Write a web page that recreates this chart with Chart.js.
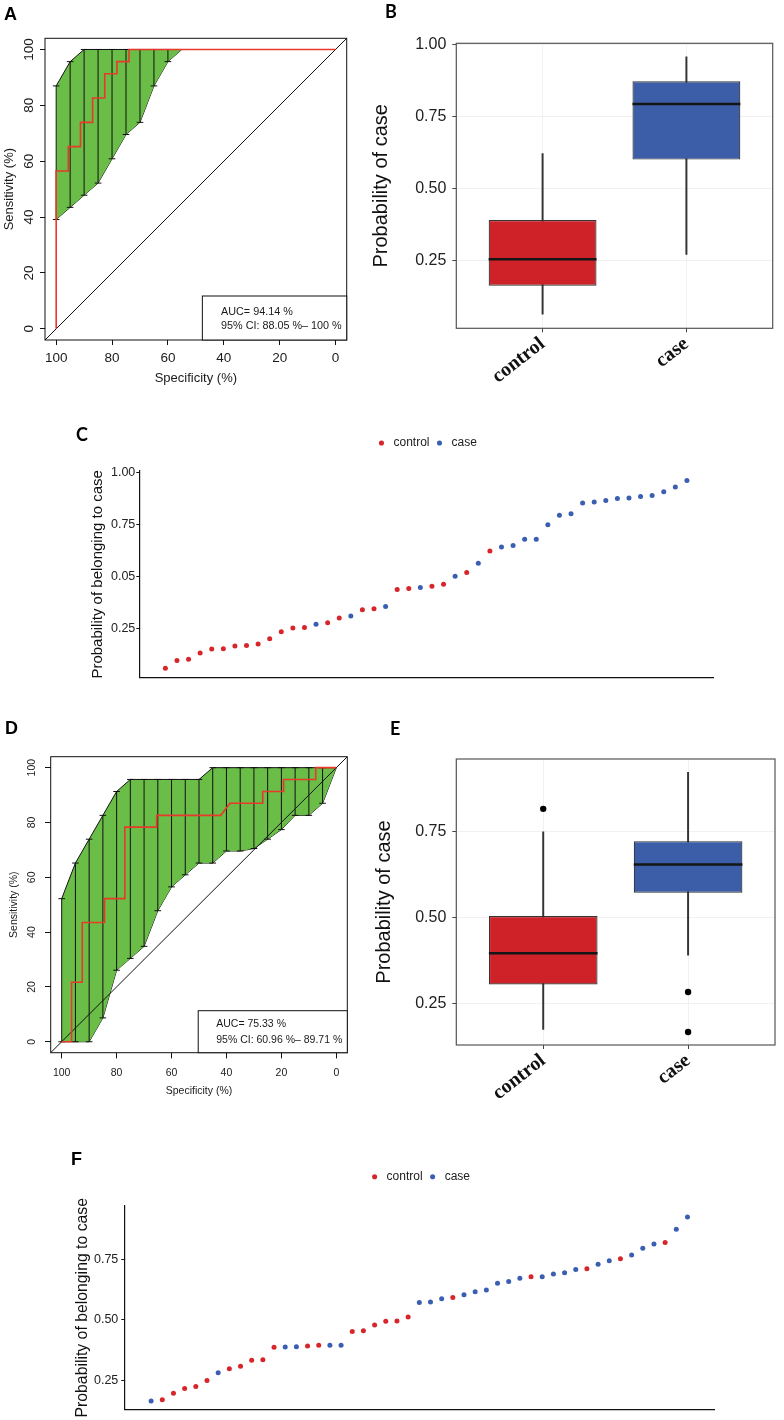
<!DOCTYPE html>
<html>
<head>
<meta charset="utf-8">
<title>ROC curves and predicted probabilities</title>
<script src="https://cdn.jsdelivr.net/npm/chart.js@4.4.1/dist/chart.umd.min.js"></script>
<style>
  body { margin: 0; background: #fff; }
  #page { position: relative; width: 784px; height: 1420px; overflow: hidden; background: #fff; }
  #page canvas { position: absolute; }
  .tag { position: absolute; font-size: 18px; line-height: 1; font-weight: bold; color: #000; }
  .arial { font-family: 'Liberation Sans', Arial, sans-serif; }
  .cal { font-family: Lato, 'Open Sans', sans-serif; }
</style>
</head>
<body>
<div id="page">
  <canvas id="chartA" width="360" height="395" style="left:0;top:0"></canvas>
  <canvas id="chartB" width="424" height="410" style="left:360px;top:0"></canvas>
  <canvas id="chartC" width="704" height="285" style="left:80px;top:415px"></canvas>
  <canvas id="chartD" width="360" height="400" style="left:0;top:700px"></canvas>
  <canvas id="chartE" width="424" height="410" style="left:360px;top:700px"></canvas>
  <canvas id="chartF" width="714" height="280" style="left:70px;top:1140px"></canvas>
  <div class="tag arial" style="left:4px;top:5px">A</div>
  <div class="tag cal" style="left:385px;top:2px">B</div>
  <div class="tag cal" style="left:76px;top:425px">C</div>
  <div class="tag arial" style="left:5px;top:719px">D</div>
  <div class="tag cal" style="left:390px;top:719px">E</div>
  <div class="tag arial" style="left:71px;top:1150px">F</div>
</div>
<script>
// ---------- data ----------
// ROC axes (percent)
var rocTicks = [0, 20, 40, 60, 80, 100];

// A: ROC curve, model 1
var rocASpec = [100, 100, 95.65, 95.65, 91.3, 91.3, 86.96, 86.96, 82.61, 82.61, 78.26, 78.26, 73.91, 73.91, 0];
var rocASens = [0, 56.52, 56.52, 65.22, 65.22, 73.91, 73.91, 82.61, 82.61, 91.3, 91.3, 95.65, 95.65, 100, 100];
var ciASpec = [100, 95, 90, 85, 80, 75, 70, 65, 60, 55];
var ciALow = [39.13, 43.48, 47.83, 52.17, 60.87, 69.57, 73.91, 86.96, 95.65, 100];
var ciAHigh = [86.96, 95.65, 100, 100, 100, 100, 100, 100, 100, 100];
var aucAText = ['AUC= 94.14 %', '95% CI: 88.05 %\u2013 100 %'];

// D: ROC curve, model 2
var rocDSpec = [100, 96.4, 96.4, 92.5, 92.5, 84.4, 84.4, 77.0, 77.0, 65.4, 65.4, 42.1, 38.7, 26.8, 26.8, 19.2, 19.2, 7.5, 7.5, 0];
var rocDSens = [0, 0, 21.7, 21.7, 43.5, 43.5, 52.2, 52.2, 78.3, 78.3, 82.6, 82.6, 87.0, 87.0, 91.3, 91.3, 95.7, 95.7, 100, 100];
var ciDSpec = [100, 95, 90, 85, 80, 75, 70, 65, 60, 55, 50, 45, 40, 35, 30, 25, 20, 15, 10, 5, 0];
var ciDLow = [0, 0, 0, 8.7, 26.1, 30.4, 34.8, 47.8, 56.5, 60.9, 65.2, 65.2, 69.6, 69.6, 70.5, 73.9, 77.4, 82.6, 82.6, 87.0, 100];
var ciDHigh = [52.2, 65.2, 73.9, 82.6, 91.3, 95.7, 95.7, 95.7, 95.7, 95.7, 95.7, 100, 100, 100, 100, 100, 100, 100, 100, 100, 100];
var aucDText = ['AUC= 75.33 %', '95% CI: 60.96 %\u2013 89.71 %'];

// B / E: box plots
var boxGroups = ['control', 'case'];
var boxBMin = [0.064, 0.272];
var boxBQ1 = [0.163, 0.601];
var boxBMed = [0.255, 0.794];
var boxBQ3 = [0.391, 0.873];
var boxBMax = [0.622, 0.958];
var boxBTicks = [0.25, 0.5, 0.75, 1.0];

var boxEMin = [0.174, 0.390];
var boxEQ1 = [0.305, 0.572];
var boxEMed = [0.396, 0.654];
var boxEQ3 = [0.504, 0.722];
var boxEMax = [0.749, 0.922];
var outlierEGroup = ['control', 'case', 'case'];
var outlierEValue = [0.816, 0.283, 0.167];
var boxETicks = [0.25, 0.5, 0.75];

// C: sorted probabilities, model 1
var cValues = [0.060, 0.097, 0.103, 0.134, 0.153, 0.154, 0.167, 0.169, 0.177, 0.202, 0.236, 0.253,
  0.256, 0.272, 0.279, 0.301, 0.311, 0.341, 0.346, 0.357, 0.438, 0.443, 0.448, 0.454, 0.464, 0.502,
  0.520, 0.564, 0.623, 0.642, 0.649, 0.679, 0.679, 0.749, 0.795, 0.802, 0.854, 0.858, 0.866, 0.875,
  0.877, 0.885, 0.890, 0.907, 0.930, 0.962];
var cGroups = ['control', 'control', 'control', 'control', 'control', 'control', 'control', 'control',
  'control', 'control', 'control', 'control', 'control', 'case', 'control', 'control', 'case', 'control',
  'control', 'case', 'control', 'control', 'case', 'control', 'control', 'case', 'control', 'case',
  'control', 'case', 'case', 'case', 'case', 'case', 'case', 'case', 'case', 'case', 'case', 'case',
  'case', 'case', 'case', 'case', 'case', 'case'];
var cTickValues = [0.25, 0.5, 0.75, 1.0];
var cTickLabels = ['0.25', '0.05', '0.75', '1.00'];

// F: sorted probabilities, model 2
var fValues = [0.167, 0.172, 0.199, 0.218, 0.226, 0.251, 0.283, 0.299, 0.310, 0.334, 0.336, 0.388,
  0.389, 0.390, 0.393, 0.396, 0.396, 0.396, 0.452, 0.456, 0.479, 0.495, 0.496, 0.512, 0.572, 0.574,
  0.587, 0.592, 0.603, 0.616, 0.623, 0.651, 0.658, 0.671, 0.677, 0.677, 0.689, 0.694, 0.707, 0.710,
  0.729, 0.743, 0.751, 0.767, 0.794, 0.812, 0.818, 0.872, 0.923];
var fGroups = ['case', 'control', 'control', 'control', 'control', 'control', 'case', 'control',
  'control', 'control', 'control', 'control', 'case', 'case', 'control', 'control', 'case', 'case',
  'control', 'control', 'control', 'control', 'control', 'control', 'case', 'case', 'case', 'control',
  'case', 'case', 'case', 'case', 'case', 'case', 'control', 'case', 'case', 'case', 'case', 'control',
  'case', 'case', 'control', 'case', 'case', 'case', 'control', 'case', 'case'];
var fTickValues = [0.25, 0.5, 0.75];
var fTickLabels = ['0.25', '0.50', '0.75'];

// ---------- styling ----------
var SANS = "'Liberation Sans', Arial, Helvetica, sans-serif";
var SERIF = "'Liberation Serif', 'Times New Roman', serif";
var ROC_MIN = -4, ROC_MAX = 104;
var BOX_WIDTH = 0.75;
var RED = '#cf2128', BLUE = '#3c5ea9';
var DOT_RED = '#d7262b', DOT_BLUE = '#3a5fb2';

Chart.defaults.font.family = SANS;
Chart.defaults.color = '#1a1a1a';
Chart.defaults.animation = false;
Chart.defaults.events = [];
Chart.defaults.plugins.tooltip.enabled = false;
Chart.defaults.plugins.legend.display = false;

// box round the plotting region
var framePlugin = {
  id: 'frame',
  afterDatasetsDraw: function (chart, args, opts) {
    var a = chart.chartArea, ctx = chart.ctx;
    ctx.save();
    ctx.strokeStyle = opts.color;
    ctx.lineWidth = opts.width;
    ctx.strokeRect(a.left, a.top, a.right - a.left, a.bottom - a.top);
    ctx.restore();
  }
};

// AUC legend in the lower right corner
var aucBoxPlugin = {
  id: 'aucBox',
  afterDatasetsDraw: function (chart, args, opts) {
    var a = chart.chartArea, ctx = chart.ctx;
    ctx.save();
    ctx.font = opts.size + 'px ' + SANS;
    var w = Math.max.apply(null, opts.lines.map(function (t) { return ctx.measureText(t).width; }));
    w += opts.padLeft + opts.padRight;
    var x0 = a.right - w, y0 = a.bottom - opts.height;
    ctx.fillStyle = '#fff';
    ctx.fillRect(x0, y0, w, opts.height);
    ctx.strokeStyle = '#111';
    ctx.lineWidth = 1;
    ctx.strokeRect(x0, y0, w, opts.height);
    ctx.fillStyle = '#1a1a1a';
    ctx.textBaseline = 'middle';
    opts.lines.forEach(function (t, i) {
      ctx.fillText(t, x0 + opts.padLeft, y0 + opts.firstLine + i * opts.lineGap);
    });
    ctx.restore();
  }
};

// R style y tick labels, turned upright along the axis
var sideLabelsPlugin = {
  id: 'sideLabels',
  afterDraw: function (chart, args, opts) {
    var s = chart.scales.y, ctx = chart.ctx;
    ctx.save();
    ctx.font = opts.size + 'px ' + SANS;
    ctx.fillStyle = '#1a1a1a';
    ctx.textAlign = 'center';
    ctx.textBaseline = 'middle';
    s.ticks.forEach(function (t) {
      ctx.save();
      ctx.translate(s.right - opts.offset, s.getPixelForValue(t.value));
      ctx.rotate(-Math.PI / 2);
      ctx.fillText(String(t.value), 0, 0);
      ctx.restore();
    });
    ctx.restore();
  }
};

function toXY(xs, ys) {
  return xs.map(function (x, i) { return { x: x, y: ys[i] }; });
}

function fixedTicks(values) {
  return function (s) { s.ticks = values.map(function (v) { return { value: v }; }); };
}

// ---------- ROC panels ----------
function rocChart(id, spec, sens, ciSpec, ciLow, ciHigh, aucText, look) {
  var bars = [];
  ciSpec.forEach(function (x, i) {
    if (ciHigh[i] > ciLow[i]) {
      bars.push({ x: x, y: ciLow[i] }, { x: x, y: ciHigh[i] }, { x: x, y: null });
    }
  });
  return new Chart(document.getElementById(id), {
    type: 'scatter',
    data: {
      datasets: [
        { data: toXY(spec, sens), showLine: true, borderColor: '#e8392c', borderWidth: 1.6, pointRadius: 0 },
        { data: [{ x: ROC_MAX, y: 100 - ROC_MAX }, { x: ROC_MIN, y: 100 - ROC_MIN }], showLine: true,
          borderColor: '#111', borderWidth: 1, pointRadius: 0 },
        { data: bars, showLine: true, borderColor: '#111', borderWidth: 1, pointStyle: 'line',
          pointRadius: 3.3, pointBorderColor: '#111', pointBorderWidth: 1 },
        { data: toXY(ciSpec, ciHigh), showLine: true, fill: '+1', backgroundColor: '#6abd46',
          borderColor: '#111', borderWidth: 1, pointRadius: 0 },
        { data: toXY(ciSpec, ciLow), showLine: true, borderColor: '#111', borderWidth: 1, pointRadius: 0 }
      ]
    },
    options: {
      responsive: false,
      layout: { padding: look.pad },
      scales: {
        x: {
          type: 'linear', reverse: true, min: ROC_MIN, max: ROC_MAX,
          afterBuildTicks: fixedTicks(rocTicks),
          afterFit: function (s) { s.height = look.xHeight; },
          ticks: { font: { size: look.tickSize }, padding: look.xTickPad, maxRotation: 0 },
          grid: { drawOnChartArea: false, tickLength: look.tickLen, tickColor: '#111' },
          border: { display: false },
          title: { display: true, text: 'Specificity (%)', font: { size: look.titleSize },
            padding: { top: 0, bottom: look.xTitlePad } }
        },
        y: {
          type: 'linear', min: ROC_MIN, max: ROC_MAX,
          afterBuildTicks: fixedTicks(rocTicks),
          afterFit: function (s) { s.width = look.yWidth; },
          ticks: { display: false },
          grid: { drawOnChartArea: false, tickLength: look.tickLen, tickColor: '#111' },
          border: { display: false },
          title: { display: true, text: 'Sensitivity (%)', font: { size: look.titleSize },
            padding: { top: look.yTitlePad, bottom: 0 } }
        }
      },
      plugins: {
        frame: { color: '#111', width: 1 },
        sideLabels: { size: look.tickSize, offset: look.yLabelOffset },
        aucBox: { lines: aucText, size: look.aucSize, padLeft: look.aucPadLeft, padRight: 5,
          height: look.aucHeight, firstLine: look.aucFirst, lineGap: look.aucGap }
      }
    },
    plugins: [framePlugin, aucBoxPlugin, sideLabelsPlugin]
  });
}

// ---------- box plot panels ----------
function boxChart(id, lo, q1, med, q3, hi, outGroups, outValues, yMin, yMax, yTicks, look) {
  var at = function (arr) { return arr.map(function (v, i) { return { x: i + 1, y: v }; }); };
  var span = function (a, b) { return a.map(function (v, i) { return { x: i + 1, y: [v, b[i]] }; }); };
  var outliers = outValues.map(function (v, i) { return { x: boxGroups.indexOf(outGroups[i]) + 1, y: v }; });
  return new Chart(document.getElementById(id), {
    type: 'bar',
    data: {
      datasets: [
        { type: 'scatter', data: outliers, order: 0, pointRadius: 3.2, backgroundColor: '#000',
          borderColor: '#000', pointBorderWidth: 0 },
        { type: 'scatter', data: at(med), order: 1, pointStyle: 'line', pointBorderColor: '#151515',
          pointBorderWidth: 2.6,
          pointRadius: function (ctx) {
            var s = ctx.chart.scales.x;
            return Math.abs(s.getPixelForValue(1 + BOX_WIDTH / 2) - s.getPixelForValue(1));
          } },
        { data: span(q1, q3), order: 2, grouped: false, backgroundColor: [RED, BLUE], borderColor: '#333',
          borderWidth: 1.2, borderSkipped: false, categoryPercentage: 1, barPercentage: BOX_WIDTH },
        { data: span(lo, hi), order: 3, grouped: false, backgroundColor: '#333', barThickness: 1.3 }
      ]
    },
    options: {
      responsive: false,
      layout: { padding: look.pad },
      scales: {
        x: {
          type: 'linear', min: 0.4, max: 2.6, offset: false,
          afterBuildTicks: fixedTicks([1, 2]),
          afterFit: function (s) { s.height = look.xHeight; },
          ticks: {
            font: { family: SERIF, size: 20, weight: 'bold' }, color: '#111', padding: 0,
            minRotation: 38, maxRotation: 38,
            callback: function (v) { return boxGroups[v - 1]; }
          },
          grid: { offset: false, color: '#f1f1f1', tickLength: 4, tickColor: '#444' },
          border: { display: false }
        },
        y: {
          type: 'linear', min: yMin, max: yMax,
          afterBuildTicks: fixedTicks(yTicks),
          afterFit: function (s) { s.width = look.yWidth; },
          ticks: { font: { size: 16 }, color: '#222', padding: 6,
            callback: function (v) { return v.toFixed(2); } },
          grid: { color: '#f1f1f1', tickLength: 4, tickColor: '#444' },
          border: { display: false },
          title: { display: true, text: 'Probability of case', font: { size: 20 }, color: '#111',
            padding: { top: look.yTitlePad, bottom: 0 } }
        }
      },
      plugins: { frame: { color: '#555', width: 1.2 } }
    },
    plugins: [framePlugin]
  });
}

// ---------- sorted probability panels ----------
function dotChart(id, values, groups, yMin, yMax, tickValues, tickLabels, look) {
  var series = function (name, color) {
    var pts = [];
    values.forEach(function (v, i) { if (groups[i] === name) pts.push({ x: i + 1, y: v }); });
    return { label: name, data: pts, backgroundColor: color, borderColor: color, borderWidth: 0,
      pointRadius: 2.5, pointBorderWidth: 0, pointStyle: 'circle' };
  };
  var spread = (values.length - 1) * 0.05;
  return new Chart(document.getElementById(id), {
    type: 'scatter',
    data: { datasets: [series('control', DOT_RED), series('case', DOT_BLUE)] },
    options: {
      responsive: false,
      layout: { padding: look.pad },
      scales: {
        x: {
          type: 'linear', min: 1 - spread, max: values.length + spread,
          afterFit: function (s) { s.height = look.xHeight; },
          ticks: { display: false },
          grid: { display: false },
          border: { color: '#111', width: 1.2 }
        },
        gap: {
          axis: 'x', type: 'linear', position: 'top',
          afterFit: function (s) { s.height = look.gap; },
          ticks: { display: false },
          grid: { display: false, drawTicks: false },
          border: { display: false }
        },
        y: {
          type: 'linear', min: yMin, max: yMax,
          afterBuildTicks: fixedTicks(tickValues),
          afterFit: function (s) { s.width = look.yWidth; },
          ticks: { font: { size: 12.5 }, color: '#222', padding: look.tickPad,
            callback: function (v, i) { return tickLabels[i]; } },
          grid: { drawOnChartArea: false, tickLength: 3, tickColor: '#111' },
          border: { color: '#111', width: 1.2 },
          title: { display: true, text: 'Probability of belonging to case', font: { size: look.titleSize },
            color: '#111', padding: { top: look.yTitlePad, bottom: 0 } }
        }
      },
      plugins: {
        legend: {
          display: true, position: 'top', fullSize: false,
          labels: { usePointStyle: true, boxHeight: 3.6, boxWidth: 12, padding: 4,
            font: { size: 12 }, color: '#222' }
        }
      }
    }
  });
}

rocChart('chartA', rocASpec, rocASens, ciASpec, ciALow, ciAHigh, aucAText, {
  pad: { left: 0, top: 38.3, right: 13.3, bottom: 0 }, xHeight: 55, yWidth: 45,
  tickSize: 13.5, titleSize: 13, tickLen: 5, xTickPad: 5, xTitlePad: 9.2, yTitlePad: 1.2,
  yLabelOffset: 16, aucSize: 10.8, aucPadLeft: 18.7, aucHeight: 44, aucFirst: 16, aucGap: 14
});

rocChart('chartD', rocDSpec, rocDSens, ciDSpec, ciDLow, ciDHigh, aucDText, {
  pad: { left: 0, top: 56.7, right: 12.7, bottom: 0 }, xHeight: 47.3, yWidth: 50.7,
  tickSize: 10.5, titleSize: 10.5, tickLen: 5.7, xTickPad: 8, xTitlePad: 3, yTitlePad: 7.7,
  yLabelOffset: 18.7, aucSize: 10.5, aucPadLeft: 18, aucHeight: 42, aucFirst: 13.6, aucGap: 15.4
});

boxChart('chartB', boxBMin, boxBQ1, boxBMed, boxBQ3, boxBMax, [], [], 0.015, 1.005, boxBTicks, {
  pad: { left: 0, top: 43.3, right: 11.3, bottom: 0 }, xHeight: 81.7, yWidth: 96.3, yTitlePad: 9.7
});

boxChart('chartE', boxEMin, boxEQ1, boxEMed, boxEQ3, boxEMax, outlierEGroup, outlierEValue, 0.129, 0.961,
  boxETicks, {
  pad: { left: 0, top: 59, right: 9, bottom: 0 }, xHeight: 65, yWidth: 96.3, yTitlePad: 12
});

dotChart('chartC', cValues, cGroups, 0.015, 1.007, cTickValues, cTickLabels, {
  pad: { left: 0, top: 18, right: 71, bottom: 0 }, gap: 12, xHeight: 22.3, yWidth: 59.3,
  tickPad: 1, titleSize: 15, yTitlePad: 9
});

dotChart('chartF', fValues, fGroups, 0.132, 0.968, fTickValues, fTickLabels, {
  pad: { left: 0, top: 26.7, right: 69.7, bottom: 0 }, gap: 13.3, xHeight: 8.3, yWidth: 54.3,
  tickPad: 3, titleSize: 15.8, yTitlePad: 3.5
});
</script>
</body>
</html>
